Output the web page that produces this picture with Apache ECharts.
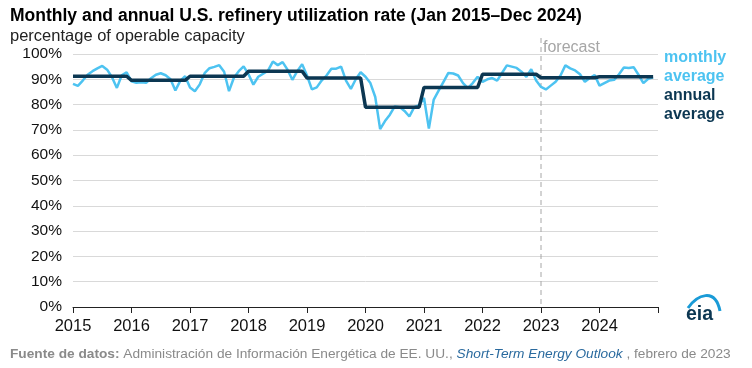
<!DOCTYPE html>
<html>
<head>
<meta charset="utf-8">
<script src="https://cdn.jsdelivr.net/npm/echarts@6/dist/echarts.min.js"></script>
<style>
html,body{margin:0;padding:0;background:#fff;}
#chart{width:752px;height:368px;}
</style>
</head>
<body>
<div id="chart"></div>
<script>
// ---- data ----
const years = [2015, 2016, 2017, 2018, 2019, 2020, 2021, 2022, 2023, 2024];
const monthly2015 = [88.2, 87.4, 89.5, 91.8, 93.2, 94.3, 95.3, 93.8, 90.8, 86.6, 91.6, 92.8];
const monthly2016 = [89.2, 88.6, 88.8, 88.6, 90.4, 91.8, 92.4, 91.6, 90.0, 85.6, 89.4, 91.2];
const monthly2017 = [86.8, 85.3, 88.0, 92.4, 94.4, 94.9, 95.6, 93.0, 85.3, 90.6, 93.2, 95.1];
const monthly2018 = [92.0, 87.9, 91.0, 92.2, 93.4, 97.0, 95.6, 96.8, 93.8, 89.8, 93.2, 96.0];
const monthly2019 = [91.5, 86.0, 86.8, 89.5, 91.5, 94.2, 94.2, 95.0, 89.5, 86.2, 90.0, 92.8];
const monthly2020 = [91.0, 88.5, 83.0, 70.3, 73.5, 76.0, 79.3, 79.0, 77.5, 75.3, 79.0, 79.8];
const monthly2021 = [82.6, 70.5, 82.0, 85.5, 89.0, 92.5, 92.3, 91.5, 88.5, 86.5, 88.5, 91.0];
const monthly2022 = [89.0, 90.0, 90.5, 89.5, 92.5, 95.5, 95.0, 94.5, 93.0, 91.0, 94.0, 89.5];
const monthly2023 = [87.0, 86.0, 87.5, 89.0, 91.5, 95.5, 94.3, 93.5, 92.0, 89.0, 90.5, 91.7];
const monthly2024 = [87.5, 88.5, 89.5, 89.8, 92.0, 94.7, 94.5, 94.8, 91.8, 88.5, 90.2, 90.8];
const annualAverage = [91.2, 89.6, 91.2, 93.2, 90.5, 79.0, 86.8, 92.0, 90.6, 91.0];
const forecastStartYear = 2023;
const yTicks = [0, 10, 20, 30, 40, 50, 60, 70, 80, 90, 100];

const monthlyByYear = [monthly2015, monthly2016, monthly2017, monthly2018, monthly2019,
  monthly2020, monthly2021, monthly2022, monthly2023, monthly2024];

// ---- build series data (x = year + month/12) ----
const monthlyData = [];
const annualData = [];
years.forEach((y, yi) => {
  monthlyByYear[yi].forEach((v, m) => {
    monthlyData.push([y + m / 12, v]);
    annualData.push([y + m / 12, annualAverage[yi]]);
  });
});

const FONT = '"Liberation Sans", Arial, sans-serif';
const BLUE = '#4dc3f1';
const NAVY = '#0c3752';

const chart = echarts.init(document.getElementById('chart'), null, {renderer: 'canvas'});
const option = {
  animation: false,
  textStyle: {fontFamily: FONT},
  title: [
    {text: 'Monthly and annual U.S. refinery utilization rate (Jan 2015\u2013Dec 2024)',
     left: 5, top: 2.5, textStyle: {fontSize: 17.5, fontWeight: 'bold', color: '#000', fontFamily: FONT}},
    {text: 'percentage of operable capacity',
     left: 5, top: 22.5, textStyle: {fontSize: 16.5, fontWeight: 'normal', color: '#222', fontFamily: FONT}}
  ],
  grid: {left: 73, right: 94, top: 54, bottom: 61, containLabel: false},
  xAxis: {
    type: 'value', min: 2015, max: 2025, interval: 1,
    axisLine: {show: true, lineStyle: {color: '#222', width: 1}},
    axisTick: {show: true, length: 6, lineStyle: {color: '#222'}},
    axisLabel: {fontSize: 16.5, color: '#111', margin: 11, fontFamily: FONT,
      formatter: v => (v >= 2025 ? '' : String(v))},
    splitLine: {show: false}
  },
  yAxis: {
    type: 'value', min: yTicks[0], max: yTicks[yTicks.length - 1], interval: 10,
    axisLine: {show: false}, axisTick: {show: false},
    axisLabel: {fontSize: 15.5, color: '#111', margin: 11, fontFamily: FONT, formatter: '{value}%'},
    splitLine: {show: true, lineStyle: {color: '#d9d9d9', width: 1}}
  },
  legend: {
    orient: 'vertical', left: 654, top: 43, itemGap: 0, itemWidth: 0, itemHeight: 0,
    icon: 'none', selectedMode: false,
    formatter: n => n.replace(' ', '\n'),
    textStyle: {fontSize: 16, fontWeight: 'bold', lineHeight: 19, fontFamily: FONT},
    data: [
      {name: 'monthly average', textStyle: {color: BLUE}},
      {name: 'annual average', textStyle: {color: NAVY}}
    ]
  },
  series: [
    {name: 'monthly average', type: 'line', data: monthlyData, showSymbol: false, symbol: 'none',
     lineStyle: {color: BLUE, width: 2.5}, itemStyle: {color: BLUE}, z: 2},
    {name: 'annual average', type: 'line', data: annualData, showSymbol: false, symbol: 'none',
     lineStyle: {color: NAVY, width: 3.5}, itemStyle: {color: NAVY}, z: 3}
  ]
};
chart.setOption(option);

// forecast divider positioned through the axis scale
const fx = chart.convertToPixel({xAxisIndex: 0}, forecastStartYear);
const yBottom = chart.convertToPixel({yAxisIndex: 0}, 0);
chart.setOption({
  graphic: [
    {type: 'line', z: 1, shape: {x1: fx, y1: 38, x2: fx, y2: yBottom},
     style: {stroke: '#a6a6a6', lineWidth: 1, lineDash: [5, 4]}},
    {type: 'text', left: fx + 2, top: 40,
     style: {text: 'forecast', fill: '#a6a6a6', fontSize: 16, fontFamily: FONT}},
    {type: 'text', left: 10, top: 347,
     style: {
       text: '{b|Fuente de datos:} Administraci\u00f3n de Informaci\u00f3n Energ\u00e9tica de EE. UU., {i|Short-Term Energy Outlook} , febrero de 2023',
       fill: '#8a8a8a', fontSize: 13.7, fontFamily: FONT,
       rich: {
         b: {fontWeight: 'bold', fill: '#8a8a8a', fontSize: 13.7, fontFamily: FONT},
         i: {fontStyle: 'italic', fill: '#2a6a9e', fontSize: 13.7, fontFamily: FONT}
       }
     }},
    // eia logo
    {type: 'bezierCurve', shape: {x1: 688, y1: 308, cpx1: 697, cpy1: 295, cpx2: 715, cpy2: 287, x2: 720, y2: 311},
     style: {stroke: '#1a9bd7', lineWidth: 3, fill: null}},
    {type: 'text', left: 686, top: 305,
     style: {text: 'eia', fill: NAVY, fontSize: 19.5, fontWeight: 'bold', fontFamily: FONT}}
  ]
});
</script>
</body>
</html>
